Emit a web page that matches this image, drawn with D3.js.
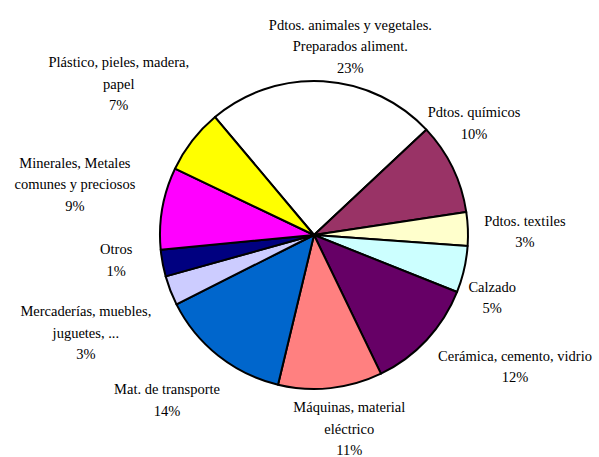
<!DOCTYPE html>
<html>
<head>
<meta charset="utf-8">
<script src="https://cdn.jsdelivr.net/npm/d3@7"></script>
<style>
  body { margin: 0; background: #fff; }
</style>
</head>
<body>
<div id="chart"></div>
<script>
// Data (share of each slice, %)
const categories = [
  ["Pdtos. animales y vegetales.", "Preparados aliment."],
  ["Pdtos. químicos"],
  ["Pdtos. textiles"],
  ["Calzado"],
  ["Cerámica, cemento, vidrio"],
  ["Máquinas, material", "eléctrico"],
  ["Mat. de transporte"],
  ["Mercaderías, muebles,", "juguetes, ..."],
  ["Otros"],
  ["Minerales, Metales", "comunes y preciosos"],
  ["Plástico, pieles, madera,", "papel"]
];
const values = [24.1, 9.6, 3.5, 4.9, 11.8, 10.9, 13.8, 3.1, 2.8, 8.6, 6.8];
const pctLabels = ["23%", "10%", "3%", "5%", "12%", "11%", "14%", "3%", "1%", "9%", "7%"];
const colors = ["#FFFFFF", "#993366", "#FFFFCC", "#CCFFFF", "#660066", "#FF8080",
                "#0066CC", "#CCCCFF", "#000080", "#FF00FF", "#FFFF00"];

// Label tweaks (px) applied on top of the polar label position
const labelNudge = [[25, 1], [-11, -29], [21, 4], [-7, 20], [62, 2], [15, 5],
                    [-29, 16], [-51, 29], [-11, -10], [-52, -18], [-45, -35]];

const width = 599;
const height = 457;
const cx = 314, cy = 235;
const radius = 154;
const labelRadius = 190;
const lineHeight = 21.5;

const svg = d3.select("#chart")
  .append("svg")
  .attr("width", width)
  .attr("height", height)
  .style("display", "block");

const g = svg.append("g").attr("transform", `translate(${cx},${cy})`);

const pie = d3.pie()
  .sort(null)
  .startAngle(-40 * Math.PI / 180)
  .endAngle(320 * Math.PI / 180);

const arcs = pie(values);

const arc = d3.arc().innerRadius(0).outerRadius(radius);

g.append("g")
  .selectAll("path")
  .data(arcs)
  .join("path")
  .attr("d", arc)
  .attr("fill", (d, i) => colors[i])
  .attr("stroke", "#000")
  .attr("stroke-width", 2)
  .attr("stroke-linejoin", "round");

// Labels: one <text> per line (name lines + percentage), centred outside the pie
const labelLines = arcs.flatMap((d, i) => {
  const mid = (d.startAngle + d.endAngle) / 2;
  const x = Math.sin(mid) * labelRadius + labelNudge[i][0];
  const y = -Math.cos(mid) * labelRadius + labelNudge[i][1];
  const lines = categories[i].concat([pctLabels[i]]);
  const top = y - (lines.length - 1) * lineHeight / 2;
  return lines.map((t, k) => ({ text: t, x: x, y: top + k * lineHeight }));
});

g.append("g")
  .selectAll("text")
  .data(labelLines)
  .join("text")
  .attr("x", d => d.x)
  .attr("y", d => d.y)
  .attr("dy", "0.35em")
  .attr("font-family", "Liberation Serif, serif")
  .attr("font-size", 14.5)
  .attr("fill", "#000")
  .attr("text-anchor", "middle")
  .text(d => d.text);
</script>
</body>
</html>
